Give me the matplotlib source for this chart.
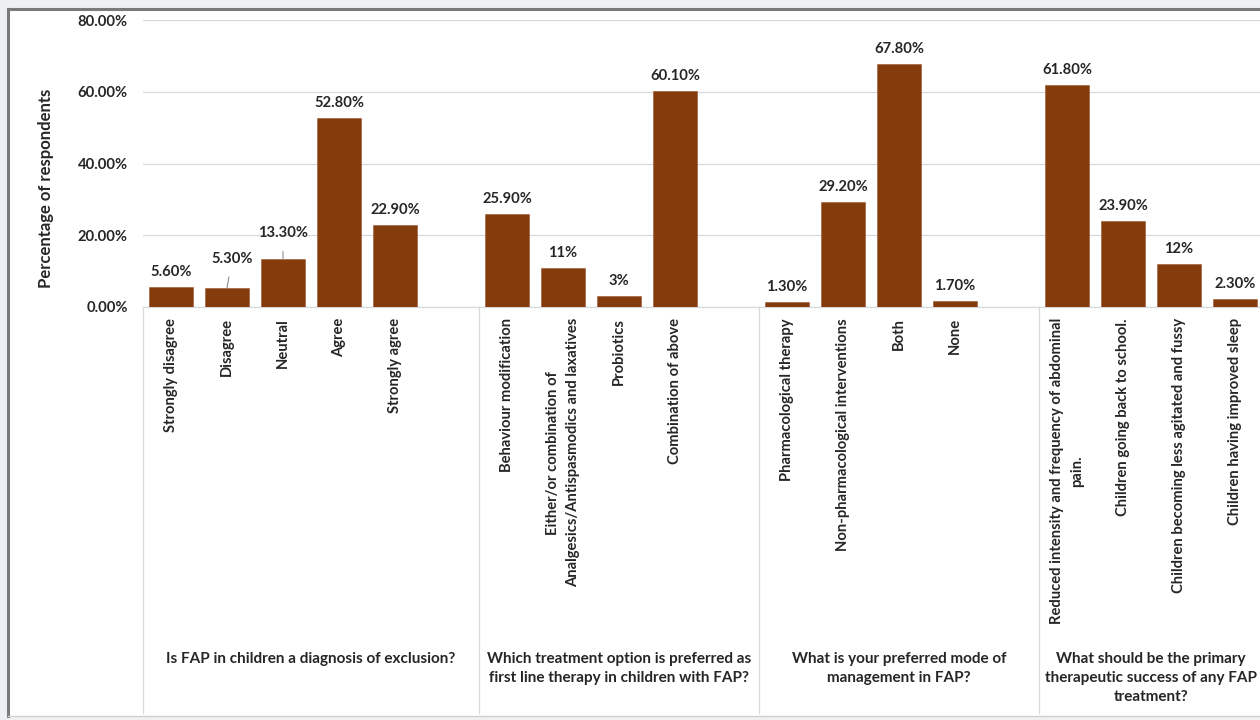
import matplotlib
matplotlib.use("Agg")
import matplotlib.pyplot as plt
from matplotlib.patches import Rectangle
from matplotlib.lines import Line2D
import matplotlib.transforms as mtransforms

plt.rcParams['font.family'] = ['Lato', 'DejaVu Sans']

# Survey questions (group captions) and their answer options
questions = [
    "Is FAP in children a diagnosis of exclusion?",
    "Which treatment option is preferred as\nfirst line therapy in children with FAP?",
    "What is your preferred mode of\nmanagement in FAP?",
    "What should be the primary\ntherapeutic success of any FAP\ntreatment?",
]
answers_q1 = ["Strongly disagree", "Disagree", "Neutral", "Agree", "Strongly agree"]
answers_q2 = ["Behaviour modification",
              "Either/or combination of\nAnalgesics/Antispasmodics and laxatives",
              "Probiotics", "Combination of above"]
answers_q3 = ["Pharmacological therapy", "Non-pharmacological interventions", "Both", "None"]
answers_q4 = ["Reduced intensity and frequency of abdominal\npain.",
              "Children going back to school.",
              "Children becoming less agitated and fussy",
              "Children having improved sleep"]

values_q1 = [5.6, 5.3, 13.3, 52.8, 22.9]
values_q2 = [25.9, 11, 3, 60.1]
values_q3 = [1.3, 29.2, 67.8, 1.7]
values_q4 = [61.8, 23.9, 12, 2.3]

labels_q1 = ["5.60%", "5.30%", "13.30%", "52.80%", "22.90%"]
labels_q2 = ["25.90%", "11%", "3%", "60.10%"]
labels_q3 = ["1.30%", "29.20%", "67.80%", "1.70%"]
labels_q4 = ["61.80%", "23.90%", "12%", "2.30%"]

y_ticks = [0, 20, 40, 60, 80]
y_tick_labels = ["0.00%", "20.00%", "40.00%", "60.00%", "80.00%"]

groups = [
    (answers_q1, values_q1, labels_q1),
    (answers_q2, values_q2, labels_q2),
    (answers_q3, values_q3, labels_q3),
    (answers_q4, values_q4, labels_q4),
]

BAR = "#843C0C"
TXT = "#262626"
GRID = "#d9d9d9"
FS = 10.6

W, H = 1260, 720
fig = plt.figure(figsize=(W / 100, H / 100), dpi=100, facecolor="#eff0f2")

# white chart sheet with a dark frame on the top and left
fig.patches.append(Rectangle((8 / W, 4 / H), 1.0, (706) / H, transform=fig.transFigure,
                             facecolor="white", edgecolor="none", zorder=-10))
fig.lines.append(Line2D([8 / W, 1.0], [711 / H, 711 / H], transform=fig.transFigure,
                        color="#7a7a7a", lw=2.2))
fig.lines.append(Line2D([8 / W, 8 / W], [4 / H, 711 / H], transform=fig.transFigure,
                        color="#7a7a7a", lw=2.2))
fig.lines.append(Line2D([8 / W, 1.0], [4 / H, 4 / H], transform=fig.transFigure,
                        color="#d0d0d0", lw=1.0))

ax_left, ax_right = 143, 1263
ax_bottom_px, ax_top_px = 307, 20
ax = fig.add_axes([ax_left / W, (H - ax_bottom_px) / H,
                   (ax_right - ax_left) / W, (ax_bottom_px - ax_top_px) / H])
ax.set_facecolor("none")

# lay out categories with one blank slot between question groups
positions, values, names, texts = [], [], [], []
group_bounds = []
slot = 0
for gi, (ans, vals, labs) in enumerate(groups):
    start = slot
    for a, v, l in zip(ans, vals, labs):
        positions.append(slot)
        values.append(v)
        names.append(a)
        texts.append(l)
        slot += 1
    if gi < len(groups) - 1:
        slot += 1
    group_bounds.append((start - 0.5, slot - 0.5))

ax.bar(positions, values, width=0.8, color=BAR, edgecolor="#9b5530", linewidth=0.4, zorder=3)

ax.set_xlim(-0.5, 19.5)
ax.set_ylim(0, 80)
ax.set_yticks(y_ticks)
ax.set_yticklabels(y_tick_labels, fontsize=FS, fontweight="bold", color=TXT)
ax.tick_params(axis="y", length=0, pad=11)
ax.grid(axis="y", color=GRID, lw=0.9, zorder=0)
for s in ["top", "right", "left"]:
    ax.spines[s].set_visible(False)
ax.spines["bottom"].set_color(GRID)
ax.spines["bottom"].set_linewidth(0.9)

ax.set_xticks(positions)
ax.set_xticklabels(names, rotation=90, fontsize=FS, fontweight="bold", color=TXT,
                   va="top", ha="center", multialignment="center")
for t in ax.get_xticklabels():
    t.set_linespacing(1.5)
ax.tick_params(axis="x", length=0, pad=8)

# data labels; two of them are lifted with a leader line
special = {1: (5, 29), 2: (0, 26)}
for i, (x, v, t) in enumerate(zip(positions, values, texts)):
    if i in special:
        dx, dy = special[i]
        ax.annotate(t, xy=(x, v), xytext=(dx, dy), textcoords="offset pixels",
                    ha="center", va="center", fontsize=FS, fontweight="bold", color=TXT,
                    arrowprops=dict(arrowstyle="-", color="#7f7f7f", lw=0.7,
                                    shrinkA=6, shrinkB=0))
    else:
        ax.annotate(t, xy=(x, v), xytext=(0, 15), textcoords="offset pixels",
                    ha="center", va="center", fontsize=FS, fontweight="bold", color=TXT)

# group separators below the axis
trans = mtransforms.blended_transform_factory(ax.transData, ax.transAxes)
y_end = ((H - 713) - (H - ax_bottom_px)) / (ax_bottom_px - ax_top_px)
for lo, hi in group_bounds:
    ax.plot([lo, lo], [0, y_end], transform=trans, color=GRID, lw=0.9, clip_on=False)

# question captions
for (lo, hi), q in zip(group_bounds, questions):
    ax.text((lo + hi) / 2, ((H - 652) - (H - ax_bottom_px)) / (ax_bottom_px - ax_top_px), q,
            transform=trans, ha="center", va="top", multialignment="center",
            fontsize=11, fontweight="bold", color=TXT, linespacing=1.45)

fig.text(46 / W, (H - 188) / H, "Percentage of respondents", rotation=90,
         ha="center", va="center", fontsize=12, fontweight="bold", color=TXT)

fig.savefig("out.png", dpi=100, facecolor=fig.get_facecolor())
